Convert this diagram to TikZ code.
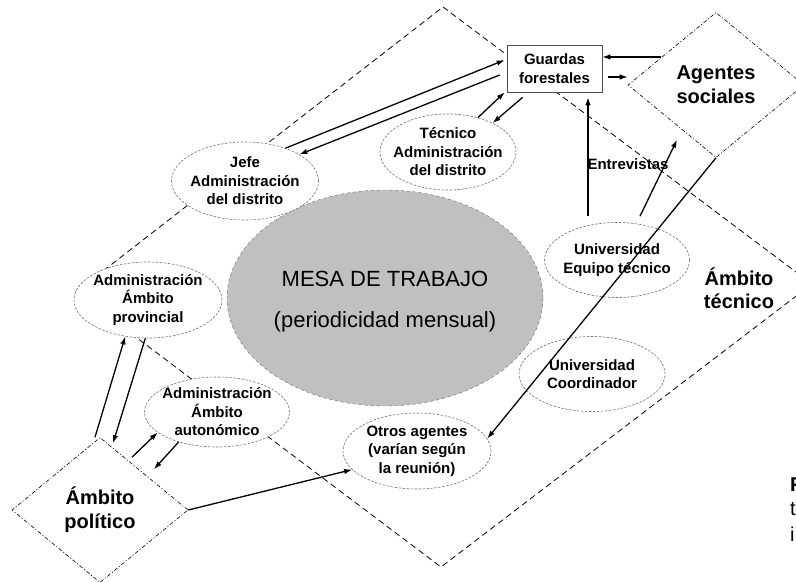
\documentclass[tikz,border=0pt]{standalone}
\usepackage{fontspec}
\setmainfont{Liberation Sans}
\usepackage{tikz}
\usetikzlibrary{shapes.geometric}
\usetikzlibrary{arrows.meta}
\definecolor{mesaGris}{RGB}{192,192,192}
\tikzset{
  grupo/.style={shape=ellipse,draw=black!55,dash pattern=on 2.5pt off 1.5pt,line width=.6pt,fill=white,inner sep=0pt},
  etiqueta/.style={font=\fontsize{15}{18.5}\selectfont\bfseries,align=center},
  mesaTexto/.style={font=\fontsize{22}{41}\selectfont,align=center},
  ambitoTexto/.style={font=\fontsize{20}{23}\selectfont\bfseries,align=center},
  ambito/.style={shape=diamond,draw=black,dash pattern=on 4pt off 2pt on 1pt off 2pt,line width=.6pt,fill=white,minimum width=176pt,minimum height=145pt,inner sep=0pt,font=\fontsize{20}{24}\selectfont\bfseries,align=center},
  ambitoLinea/.style={draw=black,dash pattern=on 6pt off 4pt,line width=.8pt},
  flecha/.style={-{Latex[length=8pt,width=5.5pt]},line width=1.3pt},
  corte/.style={anchor=base west,inner sep=0pt,font=\fontsize{20}{24}\selectfont}
}
\begin{document}
\begin{tikzpicture}[x=1pt,y=-1pt]
    \useasboundingbox (0,0) rectangle (796,583);
    \clip (0,0) rectangle (796,583);
    % ambito tecnico
    \draw[ambitoLinea] (443,7) -- (812,284) -- (441,567) -- (76,292) -- cycle;
    \node[ambitoTexto] (ambitoTecnico) at (739,288) {Ámbito\\técnico};
    % mesa
    \node[shape=ellipse,fill=mesaGris,draw=black!60,dashed,minimum width=316pt,minimum height=216pt,inner sep=0pt,
      label={[mesaTexto,yshift=-4pt]center:MESA DE TRABAJO\\(periodicidad mensual)}] (mesaTrabajo) at (385,298) {};
    % grupos
    \node[grupo,minimum width=147pt,minimum height=78pt,label={[etiqueta]center:Jefe\\Administración\\del distrito}] (jefeAdmin) at (245,181) {};
    \node[grupo,minimum width=136pt,minimum height=76pt,label={[etiqueta]center:Técnico\\Administración\\del distrito}] (tecnicoAdmin) at (448,152) {};
    \node[grupo,minimum width=145pt,minimum height=75pt,label={[etiqueta]center:Universidad\\Equipo técnico}] (uniEquipo) at (617,260) {};
    \node[grupo,minimum width=146pt,minimum height=75pt,label={[etiqueta]center:Universidad\\Coordinador}] (uniCoord) at (592,374) {};
    \node[grupo,minimum width=148pt,minimum height=76pt,label={[etiqueta]center:Otros agentes\\(varían según\\la reunión)}] (otrosAgentes) at (417,451) {};
    \node[grupo,minimum width=148pt,minimum height=76pt,label={[etiqueta]center:Administración\\Ámbito\\provincial}] (adminProvincial) at (148,300) {};
    \node[grupo,minimum width=145pt,minimum height=70pt,label={[etiqueta]center:Administración\\Ámbito\\autonómico}] (adminAutonomico) at (217,412) {};
    % guardas y ambitos
    \node[draw=black!70,fill=white,line width=.6pt,minimum width=95pt,minimum height=47pt,inner sep=0pt,etiqueta] (guardas) at (554.5,68.5) {Guardas\\forestales};
    \node[ambito] (agentes) at (716,85) {Agentes\\sociales};
    \node[ambito] (ambitoPolitico) at (100,510) {Ámbito\\político};
    % flechas
    \draw[flecha] ([xshift=33pt,yshift=28pt]agentes.west) -- ([yshift=11.5pt]guardas.east);
    \draw[flecha] ([xshift=6pt,yshift=-8.5pt]guardas.east) -- ([yshift=8pt]agentes.west);
    \draw[flecha] (jefeAdmin.39) -- ([xshift=-2pt,yshift=8.5pt]guardas.west);
    \draw[flecha] ([xshift=-7pt,yshift=-6.5pt]guardas.west) -- (jefeAdmin.26);
    \draw[flecha] (tecnicoAdmin.49) -- ([xshift=-2pt]guardas.south west);
    \draw[flecha] ([xshift=16pt,yshift=-5pt]guardas.south west) -- (tecnicoAdmin.33);
    \draw[flecha] ([xshift=-29pt,yshift=6pt]uniEquipo.north) -- ([xshift=33.5pt,yshift=-5pt]guardas.south);
    \draw[flecha] ([xshift=23pt,yshift=6pt]uniEquipo.north) -- ([xshift=-39pt,yshift=18pt]agentes.south);
    \node[etiqueta] (entrevistas) at (628,164) {Entrevistas};
    \draw[flecha] (agentes.south) -- (otrosAgentes.10);
    \draw[flecha] ([xshift=-5pt]ambitoPolitico.north) -- (adminProvincial.238);
    \draw[flecha] (adminProvincial.266) -- ([xshift=13pt,yshift=-6pt]ambitoPolitico.north);
    \draw[flecha] ([xshift=32pt,yshift=-20pt]ambitoPolitico.north) -- (adminAutonomico.199);
    \draw[flecha] (adminAutonomico.218) -- ([xshift=54pt,yshift=-32pt]ambitoPolitico.north);
    \draw[flecha] (ambitoPolitico.east) -- (otrosAgentes.196);
    % pie cortado
    \node[corte] (pieF) at (790,491) {\bfseries F};
    \node[corte] (pieT) at (790,515) {t};
    \node[corte] (pieI) at (790,541) {i};
\end{tikzpicture}
\end{document}
